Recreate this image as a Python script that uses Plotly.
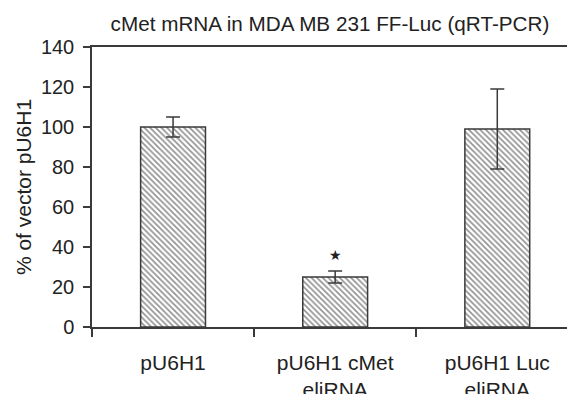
import plotly.graph_objects as go

categories = ["pU6H1", "pU6H1 cMet<br>eliRNA", "pU6H1 Luc<br>eliRNA"]
values = [100, 25, 99]
err_plus = [5, 3, 20]
err_minus = [5, 3, 20]
star_cat = ["pU6H1 cMet<br>eliRNA"]
star_y = [35.5]
y_ticks = [0, 20, 40, 60, 80, 100, 120, 140]

FONT = "Liberation Sans, Arial, sans-serif"
LINE = "#3a3a3a"
FS = 21

fig = go.Figure()
fig.add_trace(go.Bar(
    x=categories, y=values, width=0.4,
    marker=dict(color="white", line=dict(color=LINE, width=1.5),
                pattern=dict(shape="\\", size=4, solidity=0.4, fgcolor="#222", bgcolor="white")),
    error_y=dict(type="data", array=err_plus, arrayminus=err_minus, symmetric=False,
                 color=LINE, thickness=1.5, width=7),
    showlegend=False,
))
fig.add_trace(go.Scatter(
    x=star_cat, y=star_y, mode="text", text=["★"],
    textfont=dict(size=14, color="#222"), showlegend=False,
))

fig.update_layout(
    width=567, height=394,
    margin=dict(l=92, r=0, t=47, b=67),
    paper_bgcolor="white", plot_bgcolor="white",
    font=dict(family=FONT, size=FS, color="#222"),
    title=dict(text="cMet mRNA in MDA MB 231 FF-Luc (qRT-PCR)", x=0.582, xanchor="center",
               y=0.94, yanchor="middle", font=dict(size=FS - 0.3, family=FONT, color="#222")),
)
fig.update_xaxes(
    type="category", range=[-0.5, 2.43], tickson="boundaries", automargin=False,
    ticks="outside", ticklen=8, tickwidth=1.5, tickcolor=LINE,
    showline=True, linecolor=LINE, linewidth=1.5, mirror=True,
    showgrid=False, ticklabelstandoff=16,
    tickfont=dict(size=FS, family=FONT, color="#222"),
)
fig.update_yaxes(
    range=[0, 140], tickvals=y_ticks, ticks="outside", ticklen=7, tickwidth=1.5, tickcolor=LINE,
    showline=True, linecolor=LINE, linewidth=1.5, mirror=True, automargin=False,
    showgrid=False, zeroline=False, ticklabelstandoff=5,
    title=dict(text="% of vector pU6H1", font=dict(size=FS, family=FONT, color="#222"), standoff=4),
    tickfont=dict(size=FS - 1, family=FONT, color="#222"),
)

fig.write_html("out.html", config={"displayModeBar": False})
with open("out.html", "r", encoding="utf-8") as f:
    html = f.read()
html = html.replace("<body>", '<body style="margin:0;padding:0;">', 1)
with open("out.html", "w", encoding="utf-8") as f:
    f.write(html)
